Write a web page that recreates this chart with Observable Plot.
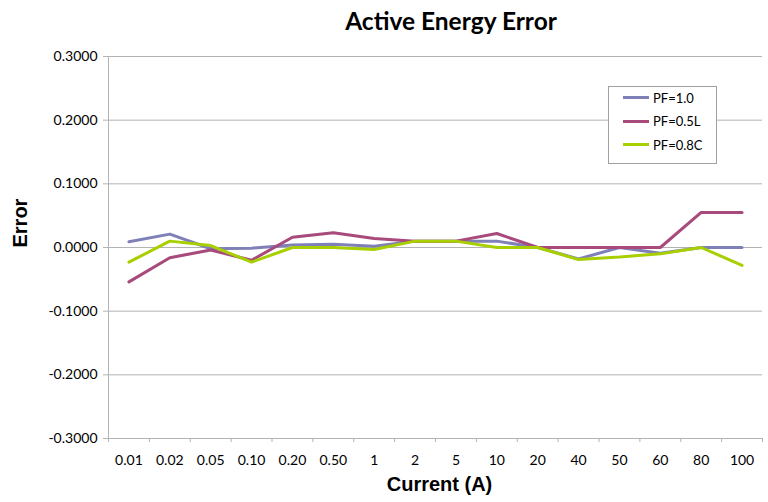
<!DOCTYPE html>
<html>
<head>
<meta charset="utf-8">
<script src="https://cdn.jsdelivr.net/npm/d3@7"></script>
<script src="https://cdn.jsdelivr.net/npm/@observablehq/plot@0.6"></script>
<style>
  html, body { margin: 0; padding: 0; background: #fff; }
  #wrap { position: relative; width: 768px; height: 502px; overflow: hidden; }
  #title { position: absolute; left: 0; top: 0; width: 768px; height: 40px; text-align: center;
    font-family: Lato, "Open Sans", sans-serif; font-weight: bold; font-size: 24.5px; line-height: 42px; color: #000; padding-left: 134px; box-sizing: border-box; }
  #chart { position: absolute; left: 0; top: 40px; }
  #legend { position: absolute; left: 608px; top: 86px; width: 109px; height: 78px; box-sizing: border-box;
    border: 1px solid #a0a0a0; background: #fff; font-family: Lato, "Open Sans", sans-serif; font-size: 13px; }
  .item { position: absolute; left: 14px; height: 14px; display: flex; align-items: center; }
  .sw { width: 26px; height: 3px; margin-right: 4px; }
</style>
</head>
<body>
<div id="wrap">
  <div id="title">Active Energy Error</div>
  <div id="chart"></div>
  <div id="legend"></div>
</div>
<script>
const categories = ["0.01","0.02","0.05","0.10","0.20","0.50","1","2","5","10","20","40","50","60","80","100"];
const seriesNames = ["PF=1.0","PF=0.5L","PF=0.8C"];
const pf10  = [0.009, 0.021, -0.002, -0.001, 0.004, 0.005, 0.002, 0.010, 0.010, 0.010, 0.000, -0.018, 0.000, -0.009, 0.000, 0.000];
const pf05L = [-0.054, -0.016, -0.004, -0.020, 0.016, 0.023, 0.014, 0.010, 0.010, 0.022, 0.000, 0.000, 0.000, 0.000, 0.055, 0.055];
const pf08C = [-0.023, 0.010, 0.003, -0.023, 0.000, 0.000, -0.003, 0.010, 0.010, 0.000, 0.000, -0.019, -0.015, -0.010, 0.000, -0.028];
const colors = ["#7f80b8", "#a84a7c", "#a8cf00"];
const yTicks = [-0.3, -0.2, -0.1, 0, 0.1, 0.2, 0.3];

const seriesValues = [pf10, pf05L, pf08C];
const data = [];
seriesNames.forEach((s, k) => seriesValues[k].forEach((v, i) => data.push({series: s, i, value: v})));

const idx = categories.map((_, i) => i);
const bounds = d3.range(categories.length + 1).map(i => i - 0.5);

const plot = Plot.plot({
  width: 768,
  height: 462,
  marginTop: 16,
  marginBottom: 64,
  marginLeft: 108,
  marginRight: 6,
  style: {fontFamily: "Lato, 'Open Sans', sans-serif", fontSize: "14px", color: "#000", background: "#fff"},
  x: {type: "linear", domain: [-0.5, categories.length - 0.5]},
  y: {domain: [-0.3, 0.3]},
  color: {domain: seriesNames, range: colors},
  marks: [
    Plot.ruleY(yTicks, {stroke: "#b3b3b3", strokeWidth: 1}),
    Plot.ruleX([-0.5], {stroke: "#b3b3b3", strokeWidth: 1}),
    Plot.axisY({ticks: yTicks, tickFormat: d => (Math.abs(d) < 1e-9 ? 0 : d).toFixed(4), tickSize: 5, tickPadding: 6, stroke: "#b3b3b3", label: null, fontSize: 14}),
    Plot.axisX({ticks: bounds, tickFormat: () => "", tickSize: 4, stroke: "#b3b3b3", label: null}),
    Plot.axisX({ticks: idx, tickFormat: i => categories[i], tickSize: 0, tickPadding: 17, label: null, fontSize: 14}),
    Plot.line(data, {x: "i", y: "value", z: "series", stroke: "series", strokeWidth: 3, strokeLinejoin: "miter"}),
    Plot.text(["Current (A)"], {frameAnchor: "bottom", dy: 52, dx: 4, fontFamily: "'Liberation Sans', Arial, sans-serif", fontWeight: "bold", fontSize: 20}),
    Plot.text(["Error"], {frameAnchor: "left", dx: -88, rotate: -90, fontFamily: "'Liberation Sans', Arial, sans-serif", fontWeight: "bold", fontSize: 20})
  ]
});
document.getElementById("chart").appendChild(plot);

const legend = document.getElementById("legend");
seriesNames.forEach((s, k) => {
  const it = document.createElement("div");
  it.className = "item";
  it.style.top = (3.5 + k * 23.5) + "px";
  it.innerHTML = `<span class="sw" style="background:${colors[k]}"></span><span>${s}</span>`;
  legend.appendChild(it);
});
</script>
</body>
</html>
